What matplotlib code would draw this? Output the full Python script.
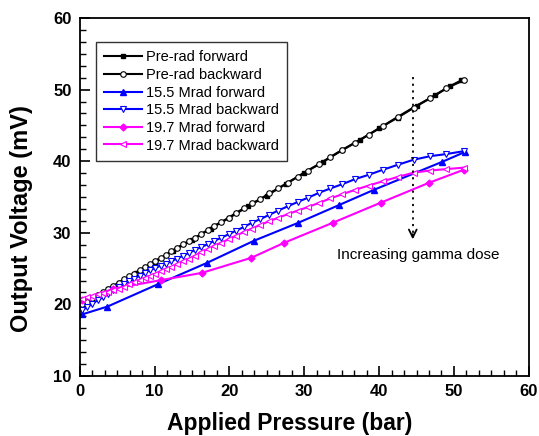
import matplotlib.pyplot as plt
from matplotlib.ticker import MultipleLocator, AutoMinorLocator

plt.rcParams['font.family'] = ['Liberation Sans', 'DejaVu Sans']

# forward sweeps (sparse markers)
pre_fwd_x = [0, 1.2, 2.5, 3.8, 5.2, 7.5, 10, 12.5, 15, 17.5, 20, 22.5, 25, 27.5,
             30, 32.5, 35, 37.5, 40, 42.5, 45, 47.5, 49.5, 51]
pre_fwd_y = [19.8, 20.5, 21.3, 22.1, 23.0, 24.4, 25.9, 27.5, 29.0, 30.6, 32.1, 33.7,
             35.2, 36.8, 38.4, 39.9, 41.5, 43.0, 44.6, 46.1, 47.7, 49.2, 50.5, 51.3]

m155_fwd_x = [0.3, 3.7, 10.4, 17.0, 23.3, 29.2, 34.7, 39.3, 48.4, 51.5]
m155_fwd_y = [18.6, 19.7, 22.8, 25.8, 28.9, 31.4, 33.9, 36.0, 39.9, 41.3]

m197_fwd_x = [0.3, 4.5, 10.9, 16.3, 22.9, 27.3, 33.8, 40.2, 46.7, 51.3]
m197_fwd_y = [20.6, 22.2, 23.4, 24.4, 26.5, 28.6, 31.4, 34.2, 37.0, 38.8]

# backward sweeps (dense sampling, shared pressure readings)
back_x = [51.3, 49.0, 46.8, 44.6, 42.5, 40.5, 38.6, 36.8, 35.1, 33.5, 32.0, 30.5,
          29.1, 27.8, 26.5, 25.3, 24.1, 23.0, 21.9, 20.9, 19.9, 18.9, 18.0, 17.1,
          16.2, 15.4, 14.6, 13.8, 13.0, 12.2, 11.5, 10.8, 10.1, 9.4, 8.7, 8.0,
          7.3, 6.6, 5.9, 5.2, 4.5, 3.8, 3.1, 2.4, 1.7, 1.0, 0.3]
pre_back_y = [51.3, 50.2, 48.8, 47.5, 46.2, 44.9, 43.7, 42.6, 41.6, 40.6, 39.6, 38.7,
              37.8, 37.0, 36.2, 35.5, 34.7, 34.1, 33.4, 32.8, 32.1, 31.5, 31.0, 30.4,
              29.8, 29.3, 28.9, 28.4, 27.9, 27.4, 26.9, 26.5, 26.1, 25.6, 25.2, 24.8,
              24.3, 23.9, 23.5, 23.0, 22.6, 22.2, 21.7, 21.3, 20.9, 20.4, 20.0]
m155_back_y = [41.4, 41.0, 40.7, 40.2, 39.5, 38.8, 38.1, 37.5, 36.8, 36.2, 35.6, 34.9,
               34.3, 33.7, 33.1, 32.5, 31.9, 31.4, 30.8, 30.3, 29.8, 29.3, 28.9, 28.4,
               28.0, 27.6, 27.2, 26.8, 26.4, 26.0, 25.7, 25.4, 25.1, 24.8, 24.4, 24.0,
               23.6, 23.2, 22.8, 22.4, 22.0, 21.5, 21.0, 20.6, 20.1, 19.6, 19.2]
m197_back_y = [39.1, 38.9, 38.7, 38.4, 37.8, 37.2, 36.6, 36.0, 35.4, 34.8, 34.2, 33.6,
               33.1, 32.6, 32.1, 31.6, 31.1, 30.6, 30.1, 29.6, 29.1, 28.6, 28.2, 27.7,
               27.3, 26.8, 26.4, 26.0, 25.6, 25.2, 24.9, 24.6, 24.3, 24.0, 23.7, 23.4,
               23.1, 22.8, 22.5, 22.2, 22.0, 21.8, 21.6, 21.4, 21.2, 21.0, 20.8]

arrow_x = 44.5
arrow_top = 51.8
arrow_bottom = 28.7

fig = plt.figure(figsize=(5.39, 4.36), dpi=100)
ax = fig.add_axes([0.148, 0.1376, 0.833, 0.8211])

ax.plot(pre_fwd_x, pre_fwd_y, color='black', lw=1.5, marker='s', ms=3.5,
        label='Pre-rad forward')
ax.plot(back_x, pre_back_y, color='black', lw=1.5, marker='o', ms=4,
        mfc='white', mew=0.8, label='Pre-rad backward')
ax.plot(m155_fwd_x, m155_fwd_y, color='blue', lw=1.5, marker='^', ms=4.5,
        label='15.5 Mrad forward')
ax.plot(back_x, m155_back_y, color='blue', lw=1.5, marker='v', ms=5,
        mfc='white', mew=0.8, label='15.5 Mrad backward')
ax.plot(m197_fwd_x, m197_fwd_y, color='magenta', lw=1.5, marker='D', ms=3.5,
        label='19.7 Mrad forward')
ax.plot(back_x, m197_back_y, color='magenta', lw=1.5, marker='<', ms=5,
        mfc='white', mew=0.8, label='19.7 Mrad backward')

# dotted arrow
ax.plot([arrow_x, arrow_x], [arrow_top, arrow_bottom + 1.0], color='black',
        ls=(0, (1.2, 2.5)), lw=1.3)
ax.annotate('', xy=(arrow_x, arrow_bottom), xytext=(arrow_x, arrow_bottom + 1.5),
            arrowprops=dict(arrowstyle='->', color='black', lw=1.3,
                            mutation_scale=14))
ax.text(34.4, 26.9, 'Increasing gamma dose', fontsize=11, va='center', ha='left')

ax.set_xlim(0, 60)
ax.set_ylim(10, 60)
ax.xaxis.set_major_locator(MultipleLocator(10))
ax.yaxis.set_major_locator(MultipleLocator(10))
ax.xaxis.set_minor_locator(AutoMinorLocator(6))
ax.yaxis.set_minor_locator(AutoMinorLocator(6))
ax.tick_params(which='both', direction='in', top=False, right=False)
ax.tick_params(which='major', length=7, width=1.2, labelsize=12, pad=6)
ax.tick_params(which='minor', length=4, width=1)
for lab in ax.get_xticklabels() + ax.get_yticklabels():
    lab.set_fontweight('bold')
for sp in ax.spines.values():
    sp.set_linewidth(1.3)

ax.set_xlabel('Applied Pressure (bar)', fontsize=16.5, fontweight='bold',
              va='baseline')
ax.xaxis.set_label_coords(0.468, -0.150)
ax.set_ylabel('Output Voltage (mV)', fontsize=17, fontweight='bold',
              ha='center', va='center')
ax.yaxis.set_label_coords(-0.13, 0.441)

leg = ax.legend(loc='upper left', bbox_to_anchor=(0.036, 0.932), borderaxespad=0,
                fontsize=10.5, frameon=True, fancybox=False, edgecolor='black',
                handlelength=2.6, handletextpad=0.3, labelspacing=0.25,
                borderpad=0.55)
leg.get_frame().set_linewidth(1.0)
for h in leg.legend_handles:
    h.set_markevery([1])

fig.savefig('out.png', dpi=100)
